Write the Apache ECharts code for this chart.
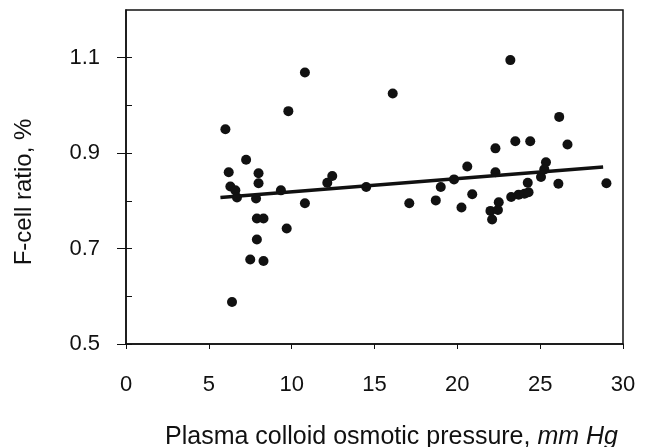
<!DOCTYPE html>
<html>
<head>
<meta charset="utf-8">
<style>
  html, body { margin: 0; padding: 0; background: #fff; }
  #chart { width: 654px; height: 447px; }
</style>
<script src="https://cdn.jsdelivr.net/npm/echarts@6/dist/echarts.min.js"></script>
</head>
<body>
<div id="chart"></div>
<script>
  // osmotic pressure (mm Hg) vs F-cell ratio (%)
  var pressure = [
    6.0, 6.2, 6.3, 6.6, 6.7, 6.4, 7.25, 8.0, 8.0, 7.85,
    7.9, 8.3, 7.9, 7.5, 8.3, 9.35, 9.7, 9.8, 10.8, 10.8,
    12.15, 12.45, 14.5, 16.1, 17.1, 18.7, 19.0, 19.8, 20.25, 20.6,
    20.9, 22.0, 22.1, 22.5, 22.45, 22.3, 22.3, 23.2, 23.25, 23.5,
    23.7, 24.05, 24.3, 24.25, 24.4, 25.05, 25.35, 25.25, 26.1, 26.15,
    26.65, 29.0
  ]
  var fcell = [
    0.950, 0.860, 0.830, 0.822, 0.807, 0.588, 0.886, 0.858, 0.837, 0.805,
    0.763, 0.763, 0.719, 0.677, 0.674, 0.822, 0.742, 0.988, 1.069, 0.795,
    0.838, 0.852, 0.829, 1.025, 0.795, 0.801, 0.829, 0.845, 0.786, 0.872,
    0.814, 0.779, 0.761, 0.797, 0.781, 0.910, 0.860, 1.095, 0.808, 0.925,
    0.813, 0.815, 0.818, 0.838, 0.925, 0.850, 0.881, 0.866, 0.836, 0.976,
    0.918, 0.837
  ]
  // regression line end points
  var fitX = [5.7, 28.8]
  var fitY = [0.807, 0.871]

  var xTicks = [0, 5, 10, 15, 20, 25, 30]
  var yLabelTicks = [0.5, 0.7, 0.9, 1.1]
  var yAllTicks = [0.5, 0.6, 0.7, 0.8, 0.9, 1.0, 1.1]

  var points = pressure.map(function (x, i) { return [x, fcell[i]] })
  var fitLine = fitX.map(function (x, i) { return [x, fitY[i]] })

  var ink = '#111'
  var font = 'Liberation Sans, Arial, sans-serif'

  var chart = echarts.init(document.getElementById('chart'))
  chart.setOption({
    animation: false,
    backgroundColor: '#fff',
    grid: {
      left: 126,
      right: 31,
      top: 10,
      bottom: 103,
      outerBoundsMode: 'none',
      show: true,
      borderColor: ink,
      borderWidth: 1.5
    },
    xAxis: {
      type: 'value',
      min: 0,
      max: 30,
      interval: 5,
      name: '{n|Plasma colloid osmotic pressure, }{i|mm Hg}',
      nameLocation: 'middle',
      nameGap: 81,
      nameTextStyle: {
        padding: [0, 0, 0, 34],
        rich: {
          n: { fontSize: 25, fontFamily: font, color: ink },
          i: { fontSize: 25, fontFamily: font, color: ink, fontStyle: 'italic' }
        }
      },
      splitLine: { show: false },
      axisLine: { lineStyle: { color: ink, width: 1.5 } },
      axisTick: { customValues: xTicks, length: 5, lineStyle: { color: ink } },
      axisLabel: { customValues: xTicks, margin: 30, fontSize: 22, fontFamily: font, color: ink }
    },
    yAxis: [{
      type: 'value',
      min: 0.5,
      max: 1.2,
      name: 'F-cell ratio, %',
      nameLocation: 'middle',
      nameGap: 90,
      nameTextStyle: { fontSize: 24, fontFamily: font, color: ink, padding: [0, 30, 0, 0] },
      splitLine: { show: false },
      axisLine: { lineStyle: { color: ink, width: 1.5 } },
      axisTick: { customValues: yLabelTicks, length: 9, lineStyle: { color: ink } },
      axisLabel: {
        customValues: yLabelTicks,
        margin: 26,
        fontSize: 22,
        fontFamily: font,
        color: ink,
        formatter: function (v) { return v.toFixed(1) }
      }
    }, {
      type: 'value',
      position: 'left',
      min: 0.5,
      max: 1.2,
      splitLine: { show: false },
      axisLine: { show: false },
      axisTick: { customValues: yAllTicks, inside: true, length: 6, lineStyle: { color: ink } },
      axisLabel: { show: false }
    }],
    series: [{
      type: 'scatter',
      data: points,
      symbolSize: 10,
      itemStyle: { color: ink, opacity: 1 }
    }, {
      type: 'line',
      data: fitLine,
      symbol: 'none',
      lineStyle: { color: ink, width: 3.5 }
    }]
  })
</script>
</body>
</html>
